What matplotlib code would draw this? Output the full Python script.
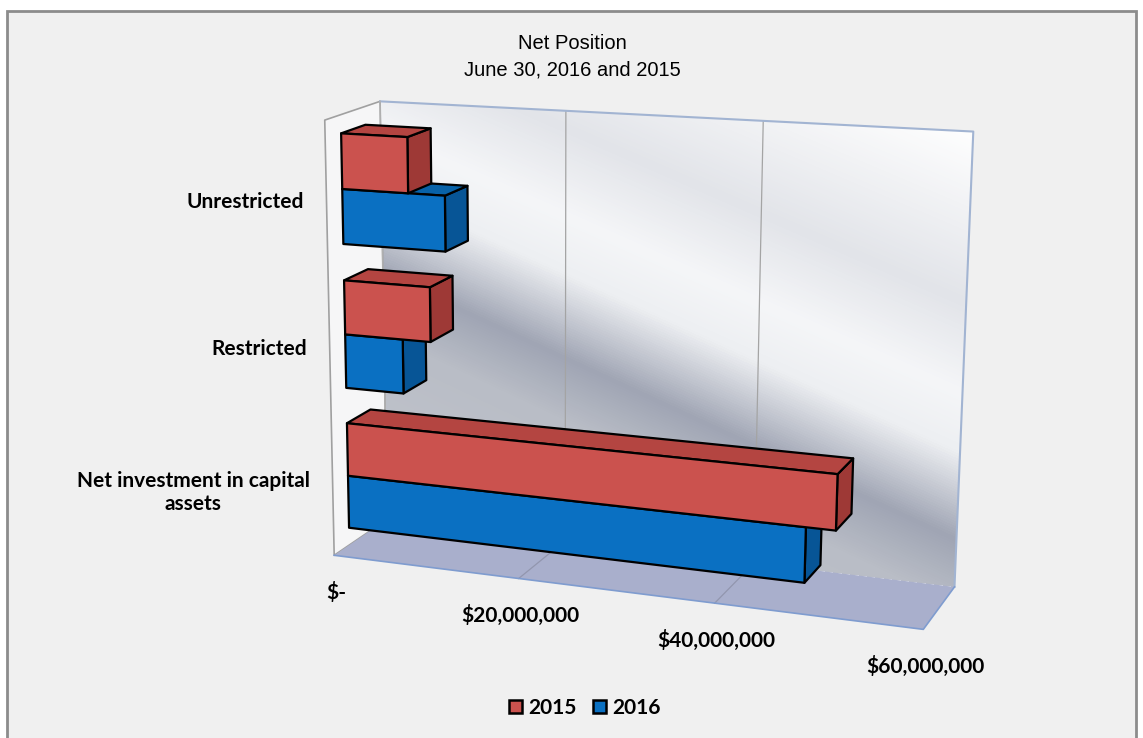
import numpy as np
import matplotlib.pyplot as plt
from matplotlib.patches import Polygon, Patch, Rectangle
from matplotlib.colors import LinearSegmentedColormap

# values in $ millions, listed bottom to top like Excel does
categories = ['Net investment in capital\nassets', 'Restricted', 'Unrestricted']
series_names = ['2015', '2016']
values_2015 = [50.6, 9.3, 7.1]
values_2016 = [47.7, 6.3, 11.0]
tick_values = [0, 20, 40, 60]
tick_labels = ['$-', '$20,000,000', '$40,000,000', '$60,000,000']
x_max = 60

W, H = 1143, 738
red = {'front': '#CB524E', 'top': '#B44541', 'side': '#9E3936'}
blue = {'front': '#0A70C2', 'top': '#0862A8', 'side': '#075596'}

# where the corners of the 3d box land in the picture:
# (value / x_max, height, depth) -> pixel, depth 0 = front, 1 = back wall
box_corners = np.array([[0, 0, 1], [1, 0, 1], [1, 1, 1], [0, 1, 1],
                        [0, 1, 0], [0, 0, 0], [1, 0, 0]], float)
box_pixels = np.array([[383, 522], [956, 583], [973, 132], [383, 102],
                       [322, 119], [338, 553], [922, 633]], float)


def fit_camera(world, pix):
    pix = pix / 1000.0
    rows = []
    for (X, Y, Z), (u, v) in zip(world, pix):
        rows.append([X, Y, Z, 1, 0, 0, 0, 0, -u * X, -u * Y, -u * Z, -u])
        rows.append([0, 0, 0, 0, X, Y, Z, 1, -v * X, -v * Y, -v * Z, -v])
    _, _, vt = np.linalg.svd(np.array(rows))
    P = vt[-1].reshape(3, 4)
    P[:2] *= 1000.0
    return P


cam = fit_camera(box_corners, box_pixels)


def proj(val, h, z):
    p = cam @ np.array([val / x_max, h, z, 1.0])
    return p[0] / p[2], p[1] / p[2]


def face(ax, pts, fc, ec='black', lw=1.6, z=3):
    xy = [proj(*p) for p in pts]
    ax.add_patch(Polygon(xy, closed=True, fc=fc, ec=ec, lw=lw, zorder=z, joinstyle='round'))


def box(ax, val, h0, h1, z0, z1, colors, z):
    face(ax, [(val, h0, z0), (val, h0, z1), (val, h1, z1), (val, h1, z0)], colors['side'], z=z)
    face(ax, [(0, h1, z0), (val, h1, z0), (val, h1, z1), (0, h1, z1)], colors['top'], z=z)
    face(ax, [(0, h0, z0), (val, h0, z0), (val, h1, z0), (0, h1, z0)], colors['front'], z=z)


fig = plt.figure(figsize=(W / 100, H / 100), dpi=100, facecolor='white')
ax = fig.add_axes([0, 0, 1, 1])
ax.set_xlim(0, W)
ax.set_ylim(H, 0)
ax.axis('off')

ax.add_patch(Rectangle((7, 11), W - 14, H, fc='#F0F0F0', ec='#8C8C8C', lw=2, zorder=0))

# back wall with a metallic gradient
wall = np.column_stack([cam[:, 0], cam[:, 1], cam[:, 2] + cam[:, 3]])
inv = np.linalg.inv(wall)
xs = np.arange(300, 1000) + 0.5
ys = np.arange(80, 620) + 0.5
gx, gy = np.meshgrid(xs, ys)
q = inv @ np.vstack([gx.ravel(), gy.ravel(), np.ones(gx.size)])
wv = (q[0] / q[2]).reshape(gx.shape)
wh = (q[1] / q[2]).reshape(gx.shape)
t = (wh + 0.49 * wv) / 1.5
grad = LinearSegmentedColormap.from_list('wall', [
    (0.0, '#C3C6CE'), (0.3, '#B9BDC6'), (0.4, '#A0A5B4'), (0.53, '#EDEFF2'),
    (0.62, '#F5F6F8'), (0.75, '#E2E4E9'), (1.0, '#FFFFFF')])
rgba = grad(np.clip(t, 0, 1))
rgba[..., 3] = ((wv >= 0) & (wv <= 1) & (wh >= 0) & (wh <= 1)).astype(float)
ax.imshow(rgba, extent=(300, 1000, 620, 80), origin='upper', zorder=1, interpolation='bilinear')
ax.set_xlim(0, W)
ax.set_ylim(H, 0)

# left wall and floor
face(ax, [(0, 0, 0), (0, 1, 0), (0, 1, 1), (0, 0, 1)], '#F6F6F7', ec='#A0A0A0', lw=1.2, z=1.5)
face(ax, [(0, 0, 0), (x_max, 0, 0), (x_max, 0, 1), (0, 0, 1)], '#A9AFCC', ec='none', lw=0, z=1.5)

for v in tick_values[1:-1]:
    ax.plot(*zip(proj(v, 0, 1), proj(v, 1, 1)), color='#A4A4A4', lw=0.9, zorder=1.6)
    ax.plot(*zip(proj(v, 0, 0), proj(v, 0, 1)), color='#9296AE', lw=0.9, zorder=1.6)

ax.plot(*zip(proj(0, 1, 1), proj(x_max, 1, 1), proj(x_max, 0, 1)), color='#A2B4D2', lw=1.5, zorder=1.7)
ax.plot(*zip(proj(0, 0, 1), proj(0, 1, 1)), color='#B0B0B0', lw=1.0, zorder=1.7)
ax.plot(*zip(proj(0, 0, 0), proj(x_max, 0, 0), proj(x_max, 0, 1)), color='#7F9CCF', lw=1.2, zorder=1.7)

# bars, lower ones first so the upper ones sit on top
bar_t = 0.125
z0, z1 = 0.28, 0.72
zo = 3
for i, cat in enumerate(categories):
    hc = (i + 0.5) / 3
    box(ax, values_2016[i], hc - bar_t, hc, z0, z1, blue, zo)
    box(ax, values_2015[i], hc, hc + bar_t, z0, z1, red, zo + 1)
    zo += 2
    ax.annotate(cat, xy=proj(0, hc, 0), xytext=(-23, -7), textcoords='offset pixels',
                ha='right', va='center', multialignment='center',
                family='Lato', weight='bold', fontsize=15)

for v, lab in zip(tick_values, tick_labels):
    ax.annotate(lab, xy=proj(v, 0, 0), xytext=(2, -37), textcoords='offset pixels',
                ha='center', va='center', family='Lato', weight='bold', fontsize=15)

ax.text(572, 49, 'Net Position', ha='center', va='baseline',
        family='Liberation Sans', fontsize=14.5)
ax.text(572, 76, 'June 30, 2016 and 2015', ha='center', va='baseline',
        family='Liberation Sans', fontsize=14.5)

handles = [Patch(fc=red['front'], ec='black', lw=1.8), Patch(fc=blue['front'], ec='black', lw=1.8)]
fig.legend(handles, series_names, loc='center', bbox_to_anchor=(585 / W, 1 - 708 / H),
           ncol=2, frameon=False, handlelength=0.6, handleheight=0.6, handletextpad=0.3,
           columnspacing=0.8, prop={'family': 'Lato', 'weight': 'bold', 'size': 15})

fig.savefig('out.png', dpi=100, facecolor=fig.get_facecolor())
